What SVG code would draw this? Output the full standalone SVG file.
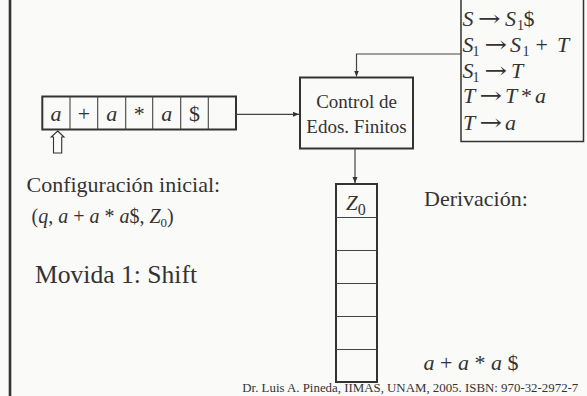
<svg xmlns="http://www.w3.org/2000/svg" width="587" height="396" viewBox="0 0 587 396">
<style>
text{font-family:"Liberation Serif","Times New Roman",serif;fill:#333}
.i{font-style:italic}
.arr{font-family:"DejaVu Serif","Liberation Serif",serif;font-size:22px}
.box{fill:none;stroke:#333;stroke-width:2}
.div{stroke:#444;stroke-width:1.1}
.con{fill:none;stroke:#444;stroke-width:1.2}
</style>
<defs>
<marker id="ah" markerUnits="userSpaceOnUse" markerWidth="7" markerHeight="6" refX="6" refY="2.5" orient="auto">
<path d="M0,0 L6,2.5 L0,5 z" fill="#333"/>
</marker>
</defs>
<rect width="587" height="396" fill="#fafaf8"/>
<line x1="10" y1="0" x2="10" y2="396" stroke="#333" stroke-width="2.6"/>

<g id="tape">
<rect class="box" x="42.3" y="96.5" width="193.7" height="33"/>
<line class="div" x1="70" y1="96.5" x2="70" y2="129.5"/>
<line class="div" x1="97.7" y1="96.5" x2="97.7" y2="129.5"/>
<line class="div" x1="125.7" y1="96.5" x2="125.7" y2="129.5"/>
<line class="div" x1="152.7" y1="96.5" x2="152.7" y2="129.5"/>
<line class="div" x1="180.7" y1="96.5" x2="180.7" y2="129.5"/>
<line class="div" x1="208.3" y1="96.5" x2="208.3" y2="129.5"/>
<g font-size="22" text-anchor="middle">
<text class="i" x="56" y="121">a</text>
<text x="84" y="121">+</text>
<text class="i" x="111.7" y="121">a</text>
<text x="139.2" y="121">*</text>
<text class="i" x="166.7" y="121">a</text>
<text x="194.5" y="121">$</text>
</g>
</g>

<g id="head">
<path d="M57.7,131 L64,137 L61.7,137 L61.7,153 L53.5,153 L53.5,137 L51.2,137 Z" fill="none" stroke="#333" stroke-width="1.1"/>
</g>

<g id="control">
<rect class="box" x="300" y="77.5" width="113" height="71"/>
<text x="356.5" y="108" font-size="19" text-anchor="middle">Control de</text>
<text x="356.5" y="133" font-size="19" text-anchor="middle">Edos. Finitos</text>
</g>

<g id="grammar">
<rect x="461" y="-2" width="122.5" height="143.5" fill="none" stroke="#333" stroke-width="1.5"/>
<g font-size="22">
<text y="25.5"><tspan class="i" x="462.5">S</tspan><tspan class="i" x="505">S</tspan><tspan x="517" dy="4" font-size="14">1</tspan><tspan x="523.5" dy="-4">$</tspan></text>
<text class="arr" x="478" y="25.5" textLength="22.5" lengthAdjust="spacingAndGlyphs">→</text>
<text y="52"><tspan class="i" x="462.5">S</tspan><tspan x="472.5" dy="4" font-size="14">1</tspan><tspan class="i" x="510" dy="-4">S</tspan><tspan x="522.5" dy="4" font-size="14">1</tspan><tspan x="535.5" dy="-4">+</tspan><tspan class="i" x="557">T</tspan></text>
<text class="arr" x="484.5" y="52" textLength="22.5" lengthAdjust="spacingAndGlyphs">→</text>
<text y="77.5"><tspan class="i" x="462.5">S</tspan><tspan x="472.5" dy="4" font-size="14">1</tspan><tspan class="i" x="511" dy="-4">T</tspan></text>
<text class="arr" x="484.5" y="77.5" textLength="22.5" lengthAdjust="spacingAndGlyphs">→</text>
<text y="102.5"><tspan class="i" x="463">T</tspan><tspan class="i" x="505">T</tspan><tspan x="521">*</tspan><tspan class="i" x="535">a</tspan></text>
<text class="arr" x="479.5" y="102.5" textLength="22.5" lengthAdjust="spacingAndGlyphs">→</text>
<text y="129.5"><tspan class="i" x="463">T</tspan><tspan class="i" x="505">a</tspan></text>
<text class="arr" x="479.5" y="129.5" textLength="22.5" lengthAdjust="spacingAndGlyphs">→</text>
</g>
</g>

<g id="stack">
<rect class="box" x="336" y="184" width="41" height="198"/>
<line class="div" x1="336" y1="217.5" x2="377" y2="217.5"/>
<line class="div" x1="336" y1="250.5" x2="377" y2="250.5"/>
<line class="div" x1="336" y1="283.5" x2="377" y2="283.5"/>
<line class="div" x1="336" y1="316.5" x2="377" y2="316.5"/>
<line class="div" x1="336" y1="349.5" x2="377" y2="349.5"/>
<text x="346" y="209.5" font-size="21"><tspan class="i">Z</tspan><tspan dy="5" font-size="16">0</tspan></text>
</g>

<g id="connectors">
<line class="con" x1="236" y1="114.3" x2="299" y2="114.3" marker-end="url(#ah)"/>
<polyline class="con" points="461,54 356.5,54 356.5,76.5" marker-end="url(#ah)"/>
<line class="con" x1="355" y1="148.5" x2="355" y2="183" marker-end="url(#ah)"/>
</g>

<g id="labels">
<text x="26.5" y="192" font-size="22">Configuración inicial:</text>
<text x="31.5" y="222.5" font-size="20">(<tspan class="i">q</tspan>, <tspan class="i">a</tspan> + <tspan class="i">a</tspan> * <tspan class="i">a</tspan>$, <tspan class="i">Z</tspan><tspan dy="4" font-size="13">0</tspan><tspan dy="-4">)</tspan></text>
<text x="35" y="283.3" font-size="25.6">Movida 1: Shift</text>
<text x="424" y="206" font-size="22">Derivación:</text>
<text x="423.5" y="370" font-size="22"><tspan class="i">a</tspan> + <tspan class="i">a</tspan> * <tspan class="i">a</tspan> $</text>
<text x="242.3" y="392.3" font-size="12.5" textLength="336" lengthAdjust="spacingAndGlyphs">Dr. Luis A. Pineda, IIMAS, UNAM, 2005. ISBN: 970-32-2972-7</text>
</g>
</svg>
